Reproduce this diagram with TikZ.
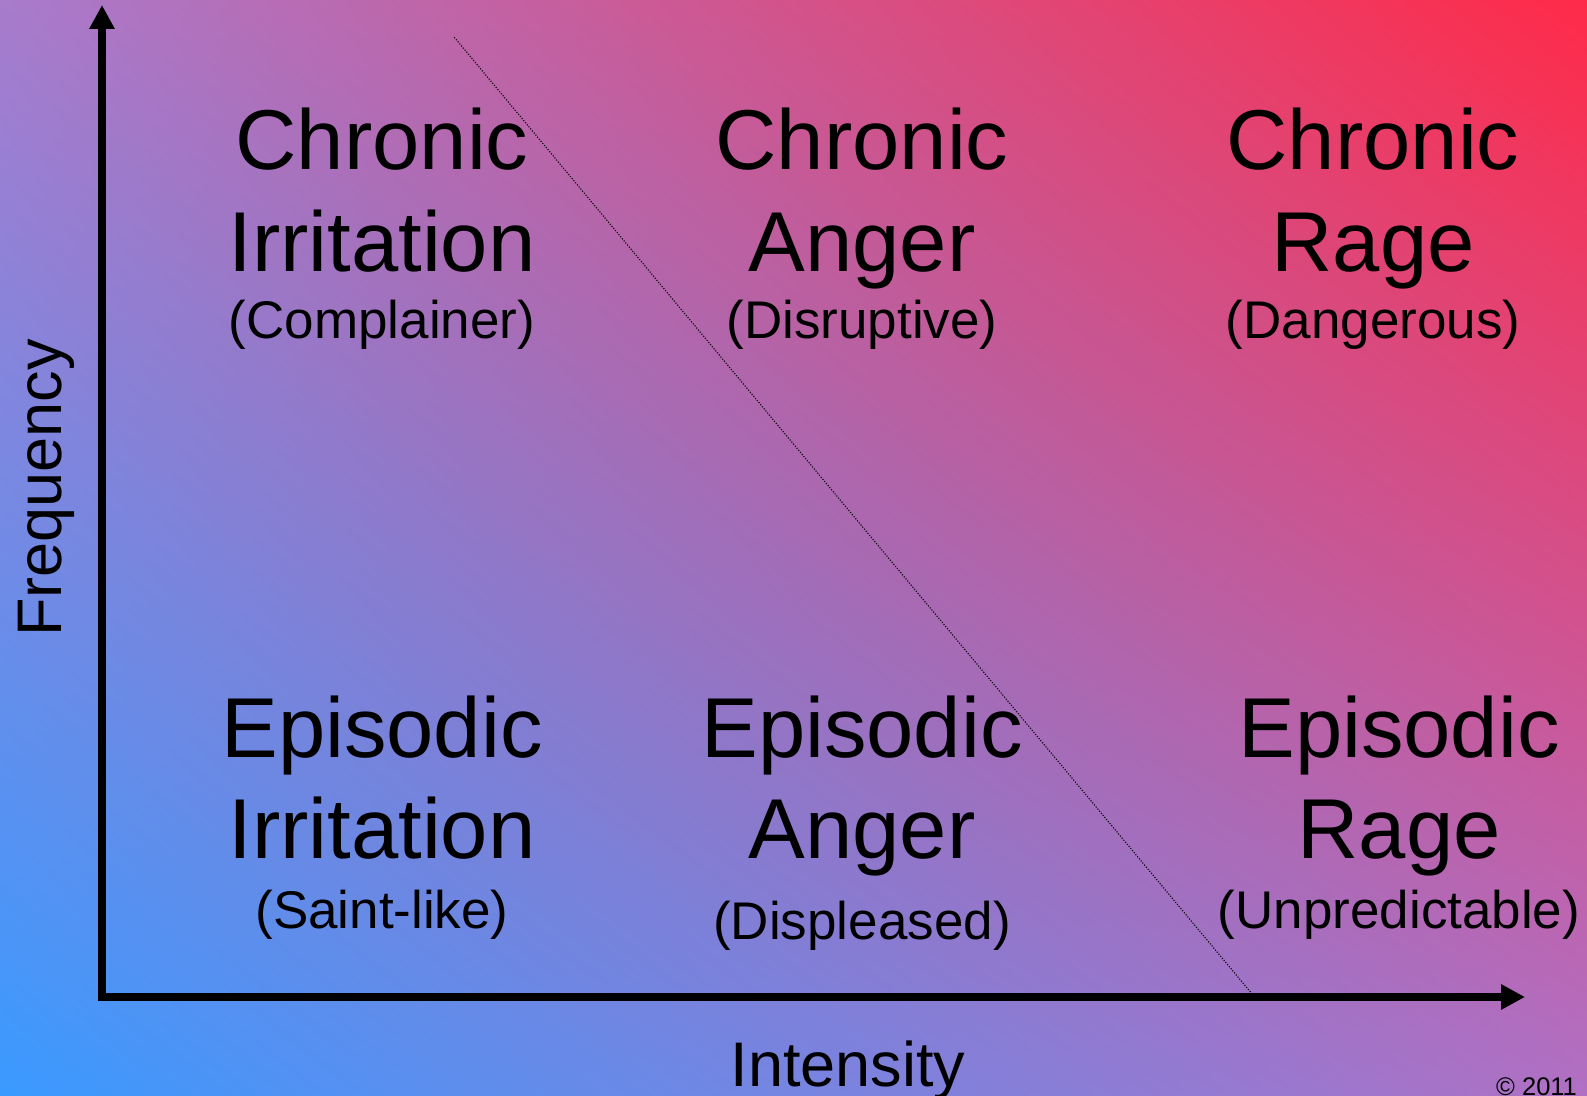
\documentclass[tikz,border=0pt]{standalone}
\usepackage{fontspec}
\setmainfont{Liberation Sans}
\usetikzlibrary{arrows.meta,shadings}
\definecolor{bgLL}{HTML}{3A9AFF}
\definecolor{bgUR}{HTML}{FF2A48}
\definecolor{bgUL}{HTML}{A87BCC}
\definecolor{bgLR}{HTML}{B070C4}
\tikzset{
  bigtxt/.style={anchor=base, inner sep=0pt, font=\fontsize{85}{85}\selectfont},
  smalltxt/.style={anchor=base, inner sep=0pt, font=\fontsize{53}{53}\selectfont},
  axislabel/.style={anchor=base, inner sep=0pt, font=\fontsize{63}{63}\selectfont},
  axis/.style={line width=8pt, -{Triangle[length=24pt,width=24pt]}, shorten <=-4pt},
  divider/.style={line width=1.1pt, dash pattern=on 1.1pt off 1.6pt}
}
\begin{document}
\begin{tikzpicture}[x=1pt,y=1pt]
\useasboundingbox (0,0) rectangle (1587,1095);
\shade[lower left=bgLL, upper right=bgUR, upper left=bgUL, lower right=bgLR] (0,0) rectangle (1587,1095);

% axes
\coordinate (O) at (102,98);
\coordinate (Ytip) at (102,1090);
\coordinate (Xtip) at (1525,98);
\draw[axis] (O) -- (Ytip);
\draw[axis] (O) -- (Xtip);

% divider
\coordinate (Dtop) at (454.3,1057.7);
\coordinate (Dbot) at (1251,102.3);
\draw[divider] (Dtop) -- (Dbot);

% axis labels
\node[axislabel, rotate=90] (freq) at (61.7,607) {Frequency};
\node[axislabel] (int) at (848,9) {Intensity};
\node[anchor=base west, inner sep=0pt, font=\fontsize{25.5}{25.5}\selectfont] (copy) at (1496,-0.5) {© 2011};

% Chronic row
\node[bigtxt] (ci1) at (382,925.7) {Chronic};
\node[bigtxt] (ci2) at (382,823.3) {Irritation};
\node[smalltxt] (ci3) at (382,756.7) {(Complainer)};

\node[bigtxt] (ca1) at (862,925.7) {Chronic};
\node[bigtxt] (ca2) at (862,823.3) {Anger};
\node[smalltxt] (ca3) at (862,756.7) {(Disruptive)};

\node[bigtxt] (cr1) at (1373,925.7) {Chronic};
\node[bigtxt] (cr2) at (1373,823.3) {Rage};
\node[smalltxt] (cr3) at (1373,756.7) {(Dangerous)};

% Episodic row
\node[bigtxt] (ei1) at (382,337.7) {Episodic};
\node[bigtxt] (ei2) at (382,236.7) {Irritation};
\node[smalltxt] (ei3) at (382,166.7) {(Saint-like)};

\node[bigtxt] (ea1) at (862,337.7) {Episodic};
\node[bigtxt] (ea2) at (862,236.7) {Anger};
\node[smalltxt] (ea3) at (862,155) {(Displeased)};

\node[bigtxt] (er1) at (1399,337.7) {Episodic};
\node[bigtxt] (er2) at (1399,236.7) {Rage};
\node[smalltxt] (er3) at (1399,166.7) {(Unpredictable)};
\end{tikzpicture}
\end{document}
